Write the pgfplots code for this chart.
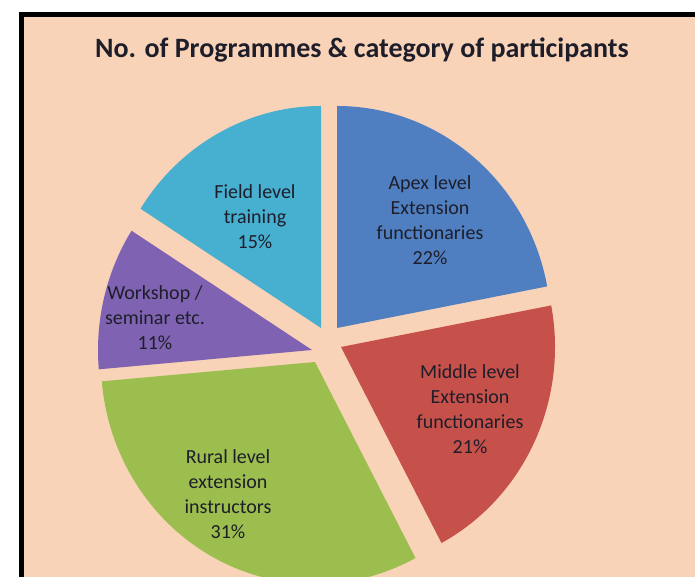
\documentclass[border=0pt]{standalone}
\usepackage{pgfplots}
\pgfplotsset{compat=1.18}
\usepackage{fontspec}
\setmainfont{Carlito}
\definecolor{bg}{HTML}{F9D3B8}
\definecolor{apex}{HTML}{4F7FC0}
\definecolor{middle}{HTML}{C6504A}
\definecolor{rural}{HTML}{9BBE4E}
\definecolor{work}{HTML}{7F63B2}
\definecolor{field}{HTML}{47AFD0}
\definecolor{txt}{HTML}{1E1E2A}
% #1 colour, #2 start angle, #3 end angle, #4,#5 vertex (pixel x, pixel y from top)
\newcommand{\slice}[5]{%
 \pgfmathsetmacro\vy{577-#5}%
 \pgfmathsetmacro\ex{107*cos(#2)}%
 \pgfmathsetmacro\ey{111*sin(#2)}%
 \edef\temp{\noexpand\fill[#1] (axis cs:#4,\vy) -- ++(\ex pt,\ey pt) arc[start angle=#2, end angle=#3, x radius=107pt, y radius=111pt] -- cycle;}%
 \temp}
\begin{document}
\begin{tikzpicture}
\begin{axis}[scale only axis, width=347.5pt, height=288.5pt,
  xmin=0, xmax=695, ymin=0, ymax=577, hide axis, clip=true]
\fill[white] (axis cs:0,0) rectangle (axis cs:695,577);
\fill[bg] (axis cs:19,0) rectangle (axis cs:695,565);
\draw[line width=2.5pt] (axis cs:21.5,0) -- (axis cs:21.5,562.5) -- (axis cs:695,562.5);
% shares: Apex 22, Middle 21, Rural 31, Workshop 11, Field 15 (clockwise from top)
\slice{apex}{90}{10.8}{337}{328}
\slice{middle}{10.8}{-62}{341}{347}
\slice{rural}{-62}{-175}{315}{362}
\slice{work}{-175}{-212.5}{312}{350}
\slice{field}{-212.5}{-270}{321}{328}
\node[font=\bfseries\fontsize{14}{16}\selectfont, text=txt] at (axis cs:362,527) {No. of Programmes \& category of participants};
\tikzset{lab/.style={align=center, text=txt, font=\fontsize{10}{12.5}\selectfont}}
\node[lab] at (axis cs:430,357) {Apex level\\Extension\\functionaries\\22\%};
\node[lab] at (axis cs:470,168) {Middle level\\Extension\\functionaries\\21\%};
\node[lab] at (axis cs:228,83) {Rural level\\extension\\instructors\\31\%};
\node[lab] at (axis cs:155,259) {Workshop /\\seminar etc.\\11\%};
\node[lab] at (axis cs:255,360) {Field level\\training\\15\%};
\end{axis}
\pgfresetboundingbox
\path (current axis.south west) rectangle (current axis.north east);
\end{tikzpicture}
\end{document}
